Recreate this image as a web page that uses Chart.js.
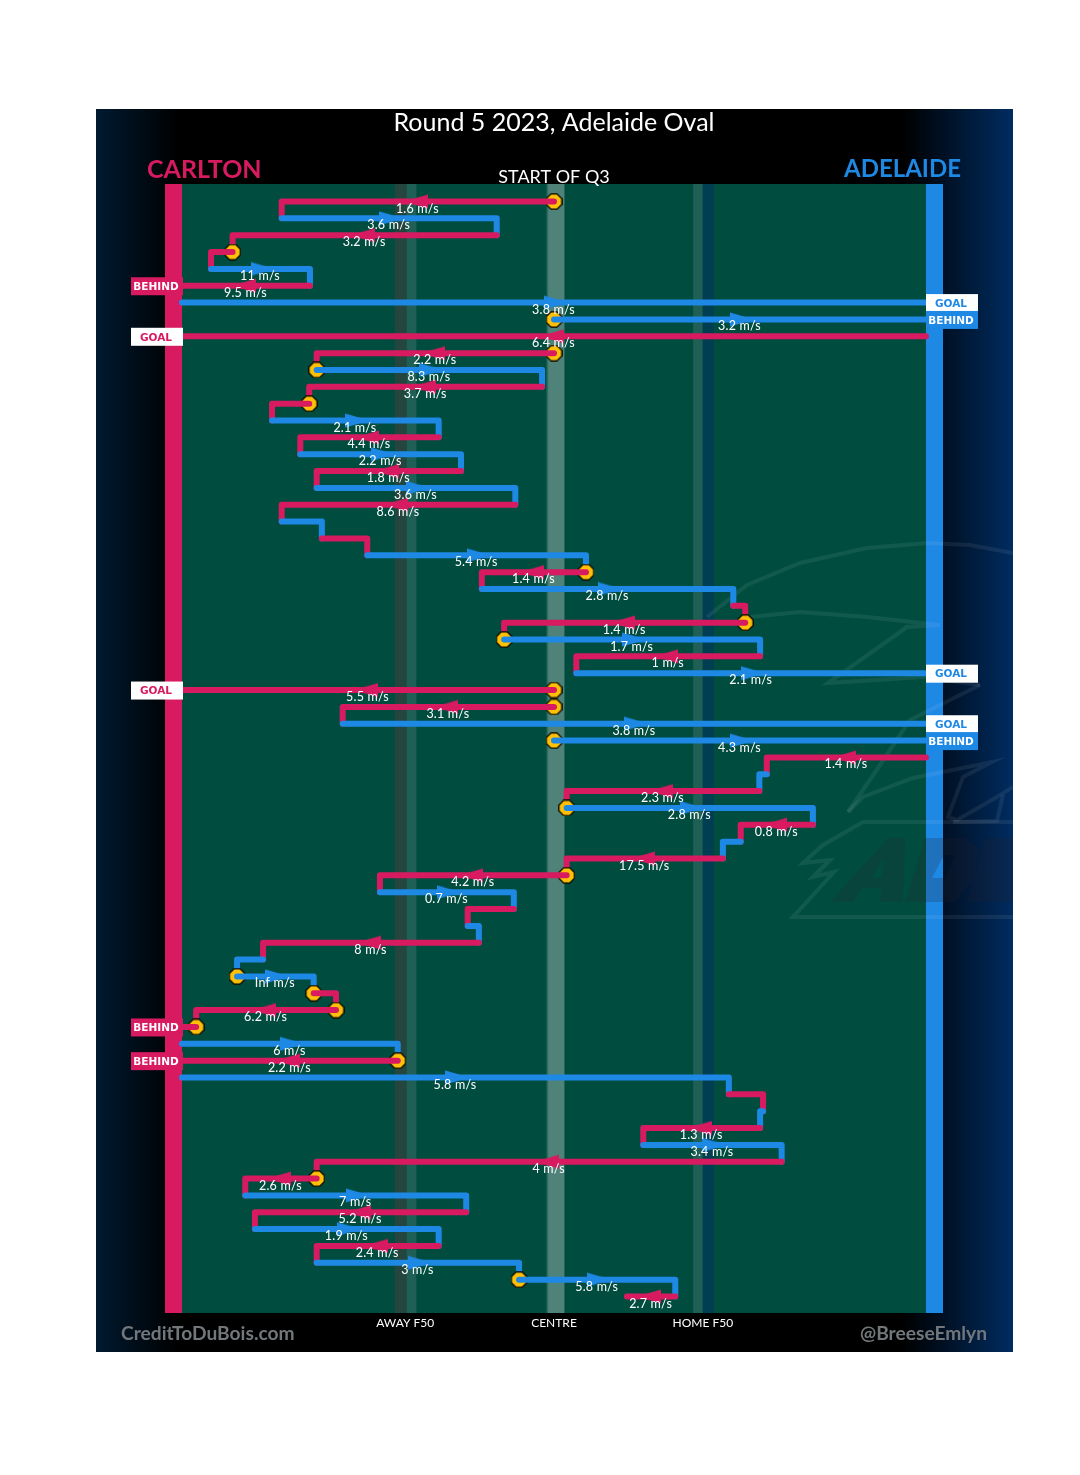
<!DOCTYPE html>
<html>
<head>
<meta charset="utf-8">
<title>Round 5 2023, Adelaide Oval</title>
<script src="https://cdn.jsdelivr.net/npm/chart.js@4"></script>
<style>
html, body { margin: 0; padding: 0; background: #fff; }
canvas { display: block; }
</style>
</head>
<body>
<canvas id="chainchart" width="1080" height="1475"></canvas>
<script>
// x = share of the ground, 0 is the Carlton goal line and 100 the Adelaide one. one row per disposal
var teams = ["C","A","C","C","A","C","A","A","C","C","A","C","C","A","C","A","C","A","C","A","C","A","C","A","C","C","A","C","A","C","C","A","A","C","A","C","A","C","A","C","C","A","C","A","C","A","A","C","C","C","A","C","A","C","A","C","A","C","C","A","C","A","C","A","A","C"];
var rowStart = [50,13.4,42.3,6.8,3.9,17.2,0,50,100,50,18.1,48.4,17.1,12.1,34.5,15.9,37.5,18.1,44.8,13.4,18.8,24.9,54.3,40.3,74.1,75.7,43.3,77.7,53,50,50,21.6,50,100,78.6,77.6,51.7,84.8,75.1,72.7,51.7,26.6,44.6,38.4,39.9,10.9,7.4,17.7,20.7,1.9,0,29,0,73.5,78.1,77.7,62,80.6,18.1,8.5,38.2,9.8,34.5,18.1,45.3,66.3];
var rowEnd = [13.4,42.3,6.8,3.9,17.2,0,100,100,0,18.1,48.4,17.1,12.1,34.5,15.9,37.5,18.1,44.8,13.4,18.8,24.9,54.3,40.3,74.1,75.7,43.3,77.7,53,100,0,21.6,100,100,78.6,77.6,51.7,84.8,75.1,72.7,51.7,26.6,44.6,38.4,39.9,10.9,7.4,17.7,20.7,1.9,0,29,0,73.5,78.1,77.7,62,80.6,18.1,8.5,38.2,9.8,34.5,18.1,45.3,66.3,59.8];
var speeds = [1.6,3.6,3.2,null,11,9.5,3.8,3.2,6.4,2.2,8.3,3.7,null,2.1,4.4,2.2,1.8,3.6,8.6,null,null,5.4,1.4,2.8,null,1.4,1.7,1,2.1,5.5,3.1,3.8,4.3,1.4,null,2.3,2.8,0.8,null,17.5,4.2,0.7,null,null,8,null,"Inf",null,6.2,null,6,2.2,5.8,null,null,1.3,3.4,4,2.6,7,5.2,1.9,2.4,3,5.8,2.7];
var stoppageRows = [0,3,7,9,10,12,22,25,26,29,30,32,36,40,46,47,48,49,51,58,64];
var goalRows = [6,8,28,29,31];
var behindRows = [5,7,32,49,51];
var tickValues = [30,50,70];
var tickNames = ["AWAY F50","CENTRE","HOME F50"];

var PINK = "#D81B60";
var BLUE = "#1E88E5";
var FIELD = "#004D40";
var BAR_W = 17;
var LABEL_FONT = "12.5px Lato";

function teamColour(t) {
    return t == "C" ? PINK : BLUE;
}

function put(ctx, str, x, y, align, font, colour, spacing) {
    ctx.font = font;
    ctx.fillStyle = colour;
    ctx.textAlign = align;
    ctx.textBaseline = "middle";
    ctx.letterSpacing = (spacing || 0) + "px";
    ctx.fillText(str, x, y);
    ctx.letterSpacing = "0px";
}

function trace(ctx, pts) {
    ctx.moveTo(pts[0][0], pts[0][1]);
    for (var i = 1; i < pts.length; i++) ctx.lineTo(pts[i][0], pts[i][1]);
}

// little point style images: the speed arrow (long, its tip hides in the line) and the stoppage octagon
function arrowImage(colour, dir) {
    var c = document.createElement("canvas");
    c.width = 24;
    c.height = 15;
    var g = c.getContext("2d");
    g.fillStyle = colour;
    g.beginPath();
    if (dir > 0) trace(g, [[0,0.5],[24,7.5],[0,14.5]]);
    else trace(g, [[24,0.5],[0,7.5],[24,14.5]]);
    g.closePath();
    g.fill();
    return c;
}

function stoppageImage() {
    var c = document.createElement("canvas");
    c.width = 17;
    c.height = 17;
    var g = c.getContext("2d");
    g.fillStyle = "#FFC107";
    g.strokeStyle = "#000";
    g.lineWidth = 1.2;
    g.beginPath();
    trace(g, [[5.5,0.8],[11.5,0.8],[16.2,5.5],[16.2,11.5],[11.5,16.2],[5.5,16.2],[0.8,11.5],[0.8,5.5]]);
    g.closePath();
    g.fill();
    g.stroke();
    return c;
}

// faint club logo behind the right hand side of the ground
function drawWatermark(ctx) {
    ctx.save();
    ctx.beginPath();
    ctx.rect(96, 109, 917, 1243);
    ctx.clip();
    ctx.lineWidth = 4;
    ctx.strokeStyle = "rgba(255,255,255,0.07)";
    var wings = [
        [[707,617],[747,585],[800,563],[867,548],[927,543],[970,545],[1013,553]],
        [[750,617],[800,612],[867,617],[940,625],[907,627],[828,683],[923,677],[980,685]],
        [[848,812],[880,765],[910,720],[980,685]],
        [[848,812],[863,797],[913,778],[992,762],[963,777],[948,817],[957,820],[997,797],[1013,787]],
        [[953,822],[997,821],[1003,795]],
        [[1013,822],[863,822],[823,845],[803,863],[830,860],[813,877],[834,872],[793,917],[1013,917]]
    ];
    for (var i = 0; i < wings.length; i++) {
        ctx.beginPath();
        trace(ctx, wings[i]);
        ctx.stroke();
    }
    ctx.fillStyle = "rgba(35,30,45,0.22)";
    var letters = [
        [[[830,902],[888,838],[905,838],[903,902],[880,902],[881,888],[862,888],[853,902]], [[872,878],[882,878],[884,858]]],
        [[[925,838],[965,838],[980,850],[973,880],[955,902],[905,902]], [[932,878],[945,878],[955,855],[944,855]]],
        [[[985,838],[1013,838],[1013,902],[967,902]]]
    ];
    for (var j = 0; j < letters.length; j++) {
        ctx.beginPath();
        for (var k = 0; k < letters[j].length; k++) {
            trace(ctx, letters[j][k]);
            ctx.closePath();
        }
        ctx.fill("evenodd");
    }
    ctx.restore();
}

var groundPlugin = {
    id: "ground",
    beforeDraw: function(chart) {
        var ctx = chart.ctx;
        var a = chart.chartArea;
        var x = chart.scales.x;

        ctx.save();
        ctx.fillStyle = "#fff";
        ctx.fillRect(0, 0, chart.width, chart.height);

        // black panel, fades to navy at both sides
        var g = ctx.createLinearGradient(96, 0, 1013, 0);
        g.addColorStop(0, "#001a30");
        g.addColorStop(0.09, "#000");
        g.addColorStop(0.88, "#000");
        g.addColorStop(1, "#002c60");
        ctx.fillStyle = g;
        ctx.fillRect(96, 109, 917, 1243);

        ctx.fillStyle = FIELD;
        ctx.fillRect(a.left, a.top, a.width, a.height);

        var strips = [
            [28.6, 30.2, "#24463e"],
            [30.2, 31.5, "#1f5f55"],
            [49.2, 51.4, "#4f8279"],
            [68.7, 70, "#1f5f55"],
            [70, 71.5, "#003f52"]
        ];
        for (var i = 0; i < strips.length; i++) {
            ctx.fillStyle = strips[i][2];
            ctx.fillRect(x.getPixelForValue(strips[i][0]), a.top, x.getPixelForValue(strips[i][1]) - x.getPixelForValue(strips[i][0]), a.height);
        }
        ctx.fillStyle = "#2f6c60";
        ctx.fillRect(x.getPixelForValue(49), a.top, x.getPixelForValue(49.2) - x.getPixelForValue(49), a.height);

        ctx.fillStyle = PINK;
        ctx.fillRect(a.left - BAR_W, a.top, BAR_W, a.height);
        ctx.fillStyle = BLUE;
        ctx.fillRect(a.right, a.top, BAR_W, a.height);

        drawWatermark(ctx);
        ctx.restore();
    },
    afterDatasetsDraw: function(chart) {
        var ctx = chart.ctx;
        var a = chart.chartArea;
        var x = chart.scales.x;
        var y = chart.scales.y;
        var i;

        ctx.save();
        for (i = 0; i < speeds.length; i++) {
            if (speeds[i] === null) continue;
            var mid = (rowStart[i] + rowEnd[i]) / 2;
            put(ctx, speeds[i] + " m/s", x.getPixelForValue(mid) - 0.5, y.getPixelForValue(i) + 7, "center", LABEL_FONT, "#fff", 0.2);
        }

        // goal and behind tags sit on the end of the row
        var tag = function(row, text) {
            var left = teams[row] == "C" ? a.left - 51 : a.right;
            var c = teamColour(teams[row]);
            var goal = text == "GOAL";
            var py = y.getPixelForValue(row);
            ctx.fillStyle = goal ? "#fff" : c;
            ctx.fillRect(left, py - 8.5, 52, 18);
            put(ctx, text, left + 25, py + 1.5, "center", "bold 10.5px 'DejaVu Sans'", goal ? c : "#fff");
        };
        for (i = 0; i < goalRows.length; i++) tag(goalRows[i], "GOAL");
        for (i = 0; i < behindRows.length; i++) tag(behindRows[i], "BEHIND");

        put(ctx, "Round 5 2023, Adelaide Oval", 554, 123, "center", "25px Lato", "#fff");
        put(ctx, "CARLTON", 147, 169.5, "left", "bold 25px Lato", PINK);
        put(ctx, "ADELAIDE", 961, 169.5, "right", "bold 24px Lato", BLUE);
        put(ctx, "START OF Q3", 554, 177, "center", "18px Lato", "#fff");
        put(ctx, "CreditToDuBois.com", 121, 1334, "left", "bold 19.2px Lato", "#72777b");
        put(ctx, "@BreeseEmlyn", 987, 1334, "right", "bold 19.2px Lato", "#72777b");
        ctx.restore();
    }
};

// each disposal: along its row, then down to where the next one starts unless a score ended it.
// later rows paint over earlier ones, a stoppage dot goes in just under its own row
var stoppageDot = stoppageImage();
var arrowImages = { C: arrowImage(PINK, -1), A: arrowImage(BLUE, 1) };
var datasets = [];
var arrowPoints = [], arrowStyles = [];
for (var i = 0; i < teams.length; i++) {
    var pts = [{x: rowStart[i], y: i}, {x: rowEnd[i], y: i}];
    var scored = goalRows.indexOf(i) >= 0 || behindRows.indexOf(i) >= 0;
    if (!scored && i < teams.length - 1) pts.push({x: rowStart[i + 1], y: i + 1});
    datasets.push({
        data: pts,
        showLine: true,
        borderColor: teamColour(teams[i]),
        borderWidth: 6,
        borderCapStyle: "round",
        borderJoinStyle: "round",
        pointRadius: 0,
        clip: false,
        order: 200 - i
    });
    if (stoppageRows.indexOf(i) >= 0) {
        datasets.push({
            data: [{x: rowStart[i], y: i}],
            showLine: false,
            pointStyle: stoppageDot,
            pointRadius: 8,
            clip: false,
            order: 200 - i + 0.5
        });
    }
    if (speeds[i] !== null) {
        var dir = teams[i] == "C" ? -1 : 1;
        arrowPoints.push({x: (rowStart[i] + rowEnd[i]) / 2 + dir * 0.27, y: i});
        arrowStyles.push(arrowImages[teams[i]]);
    }
}
datasets.push({
    data: arrowPoints,
    showLine: false,
    pointStyle: arrowStyles,
    pointRadius: 8,
    clip: false,
    order: 1
});

var chainChart = new Chart(document.getElementById("chainchart"), {
    type: "scatter",
    data: { datasets: datasets },
    plugins: [groundPlugin],
    options: {
        responsive: false,
        animation: false,
        events: [],
        layout: { padding: { left: 182, right: 154, top: 184, bottom: 0 } },
        plugins: { legend: { display: false }, tooltip: { enabled: false } },
        scales: {
            x: {
                type: "linear",
                min: 0,
                max: 100,
                afterBuildTicks: function(axis) {
                    axis.ticks = tickValues.map(function(v) { return {value: v}; });
                },
                afterFit: function(axis) { axis.height = 162; },
                grid: { display: false, drawTicks: false },
                border: { display: false },
                ticks: {
                    autoSkip: false,
                    maxRotation: 0,
                    padding: 3,
                    color: "#fff",
                    font: { family: "Lato", size: 12 },
                    callback: function(v) { return tickNames[tickValues.indexOf(v)]; }
                }
            },
            y: {
                type: "linear",
                display: false,
                reverse: true,
                min: -1.04,
                max: 65.98
            }
        }
    }
});
</script>
</body>
</html>
